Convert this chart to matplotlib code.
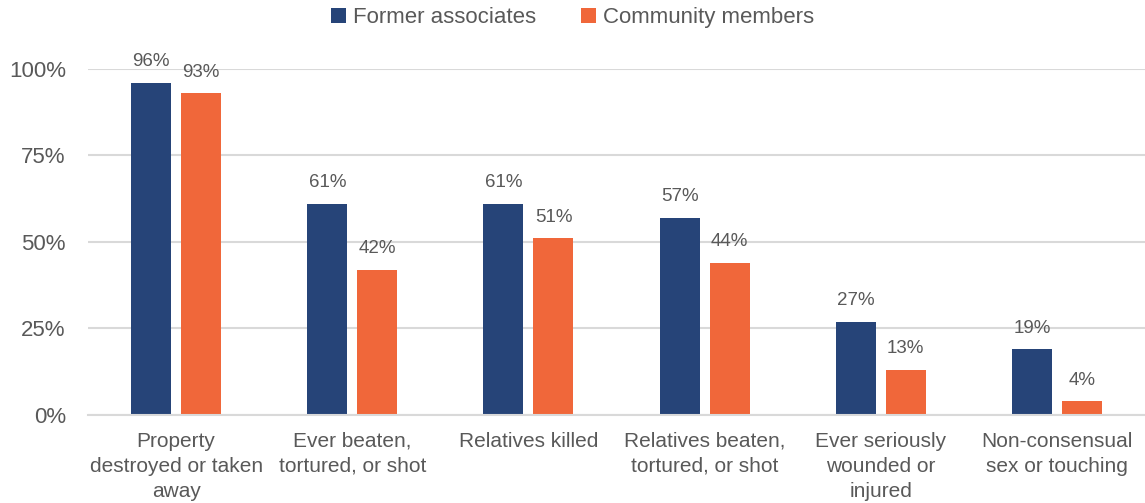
import matplotlib
matplotlib.use("Agg")
import matplotlib.pyplot as plt
import numpy as np

categories = [
    "Property\ndestroyed or taken\naway",
    "Ever beaten,\ntortured, or shot",
    "Relatives killed",
    "Relatives beaten,\ntortured, or shot",
    "Ever seriously\nwounded or\ninjured",
    "Non-consensual\nsex or touching",
]
former_associates = [96, 61, 61, 57, 27, 19]
community_members = [93, 42, 51, 44, 13, 4]
series_names = ["Former associates", "Community members"]
yticks = [0, 25, 50, 75, 100]

plt.rcParams["font.family"] = ["Liberation Sans", "DejaVu Sans"]
text_color = "#595959"
navy = "#264478"
orange = "#F0673A"
grid_color = "#D9D9D9"

fig = plt.figure(figsize=(11.45, 5.03), dpi=100)
ax = fig.add_axes([0.0769, 0.175, 0.9231, 0.688])

x = np.arange(len(categories))
width = 0.227
offset = 0.142

b1 = ax.bar(x - offset, former_associates, width, color=navy, label=series_names[0], zorder=3)
b2 = ax.bar(x + offset, community_members, width, color=orange, label=series_names[1], zorder=3)

for bars, vals in ((b1, former_associates), (b2, community_members)):
    for rect, v in zip(bars, vals):
        ax.annotate(f"{v}%", (rect.get_x() + rect.get_width() / 2, v),
                    xytext=(0, 9), textcoords="offset points",
                    ha="center", va="bottom", fontsize=13.5, color=text_color)

ax.set_xlim(-0.5, len(categories) - 0.5)
ax.set_ylim(0, 100)
ax.set_yticks(yticks)
ax.set_yticklabels([f"{t}%" for t in yticks])
ax.set_xticks(x)
ax.set_xticklabels(categories, fontsize=15, color=text_color, linespacing=1.4)
ax.tick_params(axis="y", length=0, pad=16, labelsize=16, labelcolor=text_color)
ax.tick_params(axis="x", length=0, pad=12)

ax.yaxis.grid(True, color=grid_color, linewidth=1.5, zorder=0)
ax.set_axisbelow(True)
for side in ("top", "right", "left"):
    ax.spines[side].set_visible(False)
ax.spines["bottom"].set_color(grid_color)
ax.spines["bottom"].set_linewidth(1.5)
ax.spines["bottom"].set_zorder(4)

fig.legend(handles=[b1, b2], labels=series_names, loc="upper center",
           bbox_to_anchor=(0.5, 1.025), ncol=2, frameon=False, fontsize=16,
           labelcolor=text_color, handlelength=0.7, handleheight=0.7,
           handletextpad=0.3, columnspacing=2.0)

fig.savefig("out.png", dpi=100)
